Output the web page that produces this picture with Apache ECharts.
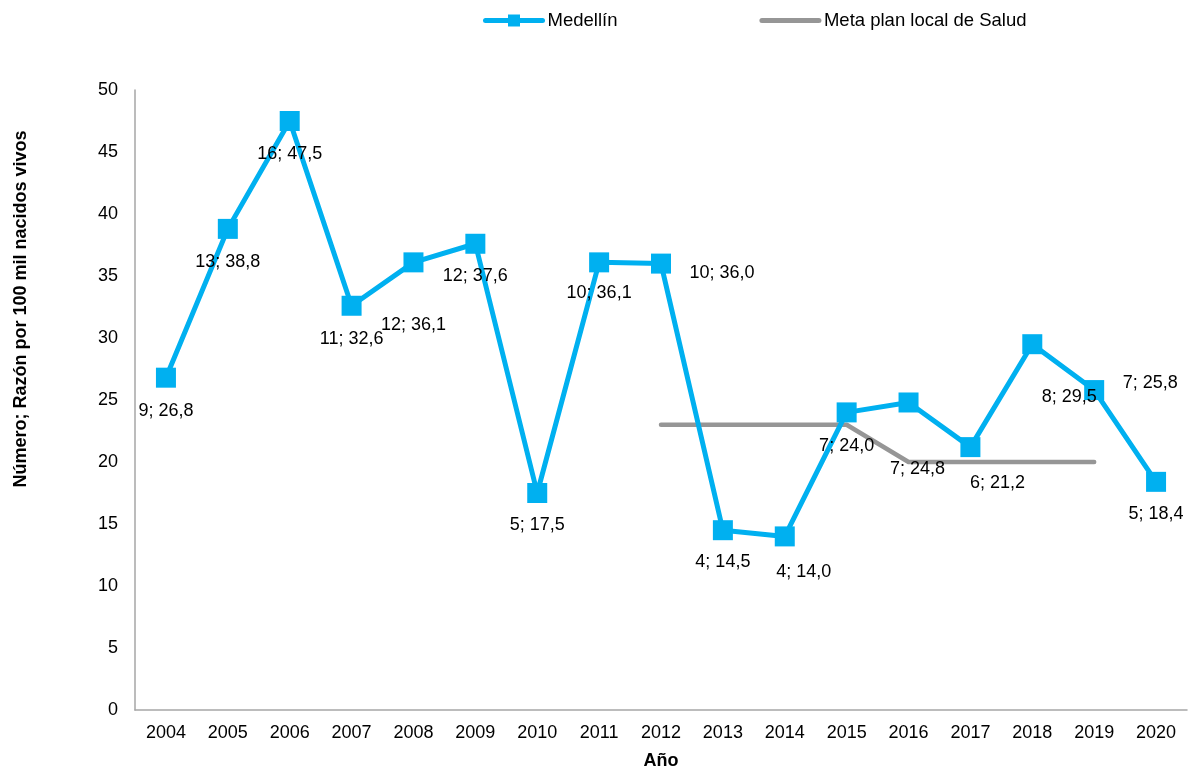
<!DOCTYPE html>
<html>
<head>
<meta charset="utf-8">
<script src="https://cdn.jsdelivr.net/npm/echarts@6/dist/echarts.min.js"></script>
<style>
  html, body { margin: 0; padding: 0; background: #ffffff; }
  #chart { width: 1188px; height: 768px; }
</style>
</head>
<body>
<div id="chart"></div>
<script>
// Mortalidad materna, Medellín 2004-2020
const years = ['2004','2005','2006','2007','2008','2009','2010','2011','2012','2013','2014','2015','2016','2017','2018','2019','2020'];
const casos = [9, 13, 16, 11, 12, 12, 5, 10, 10, 4, 4, 7, 7, 6, 8, 7, 5];
const razon = [26.8, 38.8, 47.5, 32.6, 36.1, 37.6, 17.5, 36.1, 36.0, 14.5, 14.0, 24.0, 24.8, 21.2, 29.5, 25.8, 18.4];
const meta = [null, null, null, null, null, null, null, null, 23, 23, 23, 23, 20, 20, 20, 20, null];
const yTicks = [0, 5, 10, 15, 20, 25, 30, 35, 40, 45, 50];

// label placement (offset from each marker's centre, px)
const labelOffsets = [
  [0, 33], [0, 33], [0, 33], [0, 33], [0, 63], [0, 32], [0, 32], [0, 31], [61, 9],
  [0, 32], [19, 36], [0, 34], [9, 67], [27, 36], [37, 53], [56, -7], [0, 32]
];

const fmt = v => v.toFixed(1).replace('.', ',');
const FONT = '"Liberation Sans", Arial, sans-serif';
const BLUE = '#00b0f0';
const GREY = '#969696';

const chart = echarts.init(document.getElementById('chart'), null, { renderer: 'canvas' });

chart.setOption({
  backgroundColor: '#ffffff',
  animation: false,
  legend: {
    top: 6,
    left: 478,
    itemWidth: 57,
    itemHeight: 15,
    itemGap: 142,
    textStyle: { fontFamily: FONT, fontSize: 18.5, color: '#000' },
    data: [
      { name: 'Medellín', lineStyle: { width: 5, cap: 'round' } },
      { name: 'Meta plan local de Salud', lineStyle: { width: 5, cap: 'round' }, itemStyle: { opacity: 0 } }
    ]
  },
  grid: { left: 135, right: 1, top: 90, bottom: 58, containLabel: false, outerBoundsMode: 'none' },
  xAxis: {
    type: 'category',
    data: years,
    boundaryGap: true,
    name: 'Año',
    nameLocation: 'middle',
    nameGap: 42,
    nameTextStyle: { fontFamily: FONT, fontSize: 18, fontWeight: 'bold', color: '#000' },
    axisLine: { lineStyle: { color: '#a6a6a6', width: 1.5 } },
    axisTick: { show: false },
    axisLabel: { fontFamily: FONT, fontSize: 18, color: '#000', margin: 14 }
  },
  yAxis: {
    type: 'value',
    min: yTicks[0],
    max: yTicks[yTicks.length - 1],
    interval: 5,
    splitLine: { show: false },
    axisLine: { show: true, lineStyle: { color: '#a6a6a6', width: 1.5 } },
    axisTick: { show: false },
    axisLabel: { fontFamily: FONT, fontSize: 18, color: '#000', margin: 17 }
  },
  graphic: [{
    type: 'text',
    x: 21,
    y: 309,
    rotation: Math.PI / 2,
    style: {
      text: 'Número; Razón por 100 mil nacidos vivos',
      font: 'bold 18px ' + FONT,
      fill: '#000',
      align: 'center',
      verticalAlign: 'middle'
    }
  }],
  series: [
    {
      name: 'Meta plan local de Salud',
      type: 'line',
      data: meta,
      symbol: 'none',
      lineStyle: { color: GREY, width: 4.5, cap: 'round', join: 'round' },
      itemStyle: { color: GREY },
      z: 2
    },
    {
      name: 'Medellín',
      type: 'line',
      data: razon.map((v, i) => ({
        value: v,
        label: { offset: labelOffsets[i] }
      })),
      symbol: 'rect',
      symbolSize: 20,
      lineStyle: { color: BLUE, width: 5, join: 'round' },
      itemStyle: { color: BLUE },
      label: {
        show: true,
        position: 'inside',
        fontFamily: FONT,
        fontSize: 18,
        color: '#000',
        formatter: p => casos[p.dataIndex] + '; ' + fmt(razon[p.dataIndex])
      },
      z: 3
    }
  ]
});
</script>
</body>
</html>
